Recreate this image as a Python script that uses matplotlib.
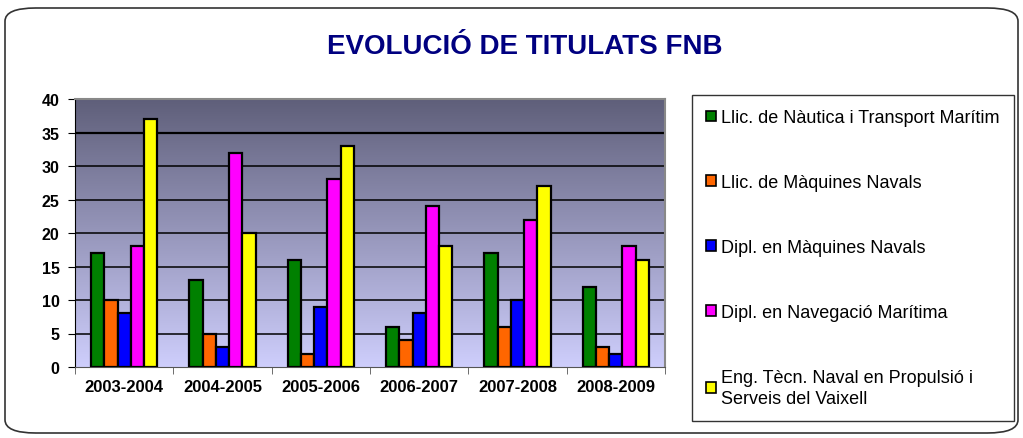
import matplotlib.pyplot as plt
import numpy as np
from matplotlib.patches import FancyBboxPatch, Patch

cursos = ['2003-2004', '2004-2005', '2005-2006', '2006-2007', '2007-2008', '2008-2009']
series = ['Llic. de Nàutica i Transport Marítim',
          'Llic. de Màquines Navals',
          'Dipl. en Màquines Navals',
          'Dipl. en Navegació Marítima',
          'Eng. Tècn. Naval en Propulsió i\nServeis del Vaixell']
nautica = [17, 13, 16, 6, 17, 12]
maquines_llic = [10, 5, 2, 4, 6, 3]
maquines_dipl = [8, 3, 9, 8, 10, 2]
navegacio = [18, 32, 28, 24, 22, 18]
propulsio = [37, 20, 33, 18, 27, 16]
colors = ['#008000', '#ff6600', '#0000ff', '#ff00ff', '#ffff00']

plt.rcParams['font.family'] = ['Liberation Sans', 'DejaVu Sans']

fig = plt.figure(figsize=(10.23, 4.39), dpi=100)
ax = fig.add_axes([75/1023, 1-368/439, 590/1023, 268/439])

# outer rounded frame
frame = FancyBboxPatch((5/1023, 5/439), 1013/1023, 425/439,
                       boxstyle='round,pad=0,rounding_size=0.03',
                       transform=fig.transFigure, fill=False,
                       edgecolor='#333333', linewidth=1.2)
fig.patches.append(frame)

# gradient background
grad = np.linspace(0, 1, 256).reshape(-1, 1)
top = np.array([95, 95, 122]) / 255
bot = np.array([206, 206, 252]) / 255
img = top + (bot - top) * grad[:, :, None]
ax.imshow(img, extent=[-0.5, 5.5, 0, 40], aspect='auto', zorder=0)

x = np.arange(len(cursos))
w = 0.135
data = [nautica, maquines_llic, maquines_dipl, navegacio, propulsio]
for i, vals in enumerate(data):
    ax.bar(x + (i - 2) * w, vals, w, color=colors[i], edgecolor='black',
           linewidth=1.6, zorder=3)

ax.set_xlim(-0.5, 5.5)
ax.set_ylim(0, 40)
ax.set_yticks(range(0, 41, 5))
ax.set_yticklabels([str(v) for v in range(0, 41, 5)], fontsize=11.5, fontweight='bold')
for v in range(5, 40, 5):
    ax.axhline(v, color='black', linewidth=1.6 if v == 35 else 1.1, zorder=1)
ax.set_xticks(x)
ax.set_xticklabels(cursos, fontsize=12, fontweight='bold')
ax.set_xticks(np.arange(-0.5, 6, 1), minor=True)
ax.tick_params(axis='x', which='major', length=0, pad=9)
ax.tick_params(axis='x', which='minor', length=5, color='#555555')
ax.tick_params(axis='y', length=5, color='black', pad=6)
for s in ['top', 'right']:
    ax.spines[s].set_color('#888888')
    ax.spines[s].set_linewidth(1.5)
ax.spines['left'].set_color('black')
ax.spines['bottom'].set_color('#555555')

fig.text(525/1023, 1-47/439, 'EVOLUCIÓ DE TITULATS FNB', ha='center', va='center',
         fontsize=20, fontweight='bold', color='#000080')

handles = [Patch(facecolor=c, edgecolor='black', linewidth=1.2) for c in colors]
leg = fig.legend(handles, series, loc='upper left',
                 bbox_to_anchor=(692/1023, 1-96/439), fontsize=13,
                 frameon=True, fancybox=False, edgecolor='black',
                 labelspacing=2.65, handlelength=0.55, handleheight=0.55,
                 handletextpad=0.25, borderpad=0.8, borderaxespad=0)
for t in leg.get_texts():
    t.set_linespacing(1.3)
leg.get_frame().set_linewidth(1.0)

fig.savefig('out.png', dpi=100)
